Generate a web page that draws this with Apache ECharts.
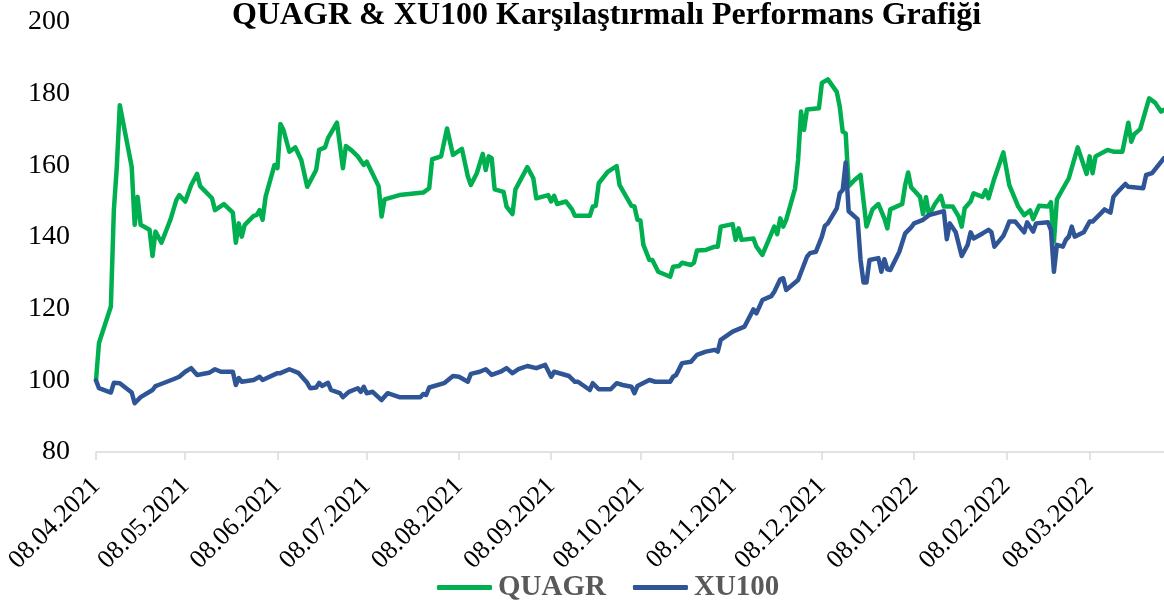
<!DOCTYPE html>
<html>
<head>
<meta charset="utf-8">
<script src="https://cdn.jsdelivr.net/npm/echarts@6/dist/echarts.min.js"></script>
<style>
html,body{margin:0;padding:0;background:#fff;}
#chart{width:1164px;height:604px;}
</style>
</head>
<body>
<div id="chart"></div>
<script>
const chartTitle = 'QUAGR & XU100 Karşılaştırmalı Performans Grafiği';
const seriesNames = ['QUAGR', 'XU100'];
const tickDates = ['2021-04-08','2021-05-08','2021-06-08','2021-07-08','2021-08-08','2021-09-08',
  '2021-10-08','2021-11-08','2021-12-08','2022-01-08','2022-02-08','2022-03-08'];
const yTicks = [80, 100, 120, 140, 160, 180, 200];
const axisStart = '2021-04-08';
const axisEnd = '2022-04-02';

const quagr = [
['2021-04-08',100],['2021-04-09',110.4],['2021-04-13',120.6],['2021-04-14',147.5],['2021-04-15',159.6],
['2021-04-16',176.8],['2021-04-20',159.6],['2021-04-21',143.4],['2021-04-22',151.2],['2021-04-23',143.4],
['2021-04-26',142],['2021-04-27',134.7],['2021-04-28',141.5],['2021-04-30',138.4],['2021-05-03',144.8],
['2021-05-05',150.3],['2021-05-06',151.7],['2021-05-08',149.9],['2021-05-10',154.5],['2021-05-12',157.6],
['2021-05-13',154.2],['2021-05-17',150.8],['2021-05-18',147.5],['2021-05-21',149.2],['2021-05-24',146.8],
['2021-05-25',138.4],['2021-05-26',143.8],['2021-05-27',140.1],['2021-05-28',143.4],['2021-05-31',145.9],
['2021-06-01',146.1],['2021-06-02',147.5],['2021-06-03',144.8],['2021-06-04',151.2],['2021-06-07',160.1],
['2021-06-08',159.2],['2021-06-09',171.5],['2021-06-10',169.9],['2021-06-12',163.8],['2021-06-14',165],
['2021-06-16',161.5],['2021-06-18',154],['2021-06-21',158.7],['2021-06-22',164.3],['2021-06-24',165],
['2021-06-25',167.6],['2021-06-28',171.9],['2021-06-30',159.2],['2021-07-01',165.4],['2021-07-03',164.1],
['2021-07-05',162.5],['2021-07-07',160.1],['2021-07-08',161],['2021-07-12',154.2],['2021-07-13',145.7],
['2021-07-14',150.5],['2021-07-19',151.7],['2021-07-27',152.4],['2021-07-29',153.6],['2021-07-30',161.7],
['2021-08-02',162.5],['2021-08-04',170.3],['2021-08-06',162.9],['2021-08-09',164.6],['2021-08-11',156.9],
['2021-08-12',154.5],['2021-08-14',157.8],['2021-08-16',163.2],['2021-08-17',158.7],['2021-08-18',162.5],
['2021-08-19',162],['2021-08-20',153.3],['2021-08-23',152.6],['2021-08-24',148.5],['2021-08-26',146.4],
['2021-08-27',153.3],['2021-08-31',159.5],['2021-09-02',156.4],['2021-09-03',150.8],['2021-09-07',151.7],
['2021-09-08',149.9],['2021-09-09',151.5],['2021-09-10',149.2],['2021-09-13',149.9],['2021-09-15',147.7],
['2021-09-16',145.9],['2021-09-21',145.9],['2021-09-22',148.5],['2021-09-23',148.7],['2021-09-24',155],
['2021-09-27',158.2],['2021-09-30',159.8],['2021-10-01',154.5],['2021-10-05',148.7],['2021-10-06',148.5],
['2021-10-07',144.8],['2021-10-08',144.6],['2021-10-09',137.8],['2021-10-11',133.6],['2021-10-12',133.6],
['2021-10-14',130.3],['2021-10-18',128.9],['2021-10-19',131.7],['2021-10-21',131.9],['2021-10-22',132.8],
['2021-10-25',132.2],['2021-10-26',132.8],['2021-10-27',136.2],['2021-10-30',136.4],['2021-11-02',137.3],
['2021-11-03',137.3],['2021-11-04',142.9],['2021-11-08',143.6],['2021-11-09',139.2],['2021-11-10',142.4],
['2021-11-11',139.2],['2021-11-15',139.6],['2021-11-16',137.3],['2021-11-18',135],['2021-11-22',142.9],
['2021-11-23',140.8],['2021-11-24',145.2],['2021-11-25',142.9],['2021-11-26',144.8],['2021-11-29',153.6],
['2021-11-30',161.5],['2021-12-01',175],['2021-12-02',169.9],['2021-12-03',175.6],['2021-12-07',175.9],
['2021-12-08',183],['2021-12-10',184],['2021-12-13',180.5],['2021-12-14',176.4],['2021-12-15',169.4],
['2021-12-16',168.9],['2021-12-17',154.2],['2021-12-19',155.9],['2021-12-21',157.3],['2021-12-23',142.9],
['2021-12-25',147.7],['2021-12-27',149.2],['2021-12-29',145.2],['2021-12-30',142.4],['2021-12-31',147.7],
['2022-01-04',149.2],['2022-01-05',154.5],['2022-01-06',158],['2022-01-07',153.9],['2022-01-10',151.2],
['2022-01-11',146.4],['2022-01-12',151.1],['2022-01-13',146.1],['2022-01-15',149.2],['2022-01-17',151.5],
['2022-01-18',148.5],['2022-01-21',148.5],['2022-01-23',145.7],['2022-01-24',142.9],['2022-01-25',148],
['2022-01-27',149.9],['2022-01-28',152.2],['2022-01-31',151.2],['2022-02-01',153],['2022-02-02',150.8],
['2022-02-04',156.4],['2022-02-07',163.6],['2022-02-09',154.5],['2022-02-12',148.5],['2022-02-14',146.1],
['2022-02-16',147.4],['2022-02-17',145],['2022-02-19',148.7],['2022-02-22',148.5],['2022-02-23',149.7],
['2022-02-24',138.7],['2022-02-25',150.5],['2022-03-01',156.4],['2022-03-04',165],['2022-03-07',157.6],
['2022-03-08',162.5],['2022-03-09',157.8],['2022-03-10',162.5],['2022-03-14',164.3],['2022-03-16',163.8],
['2022-03-19',163.8],['2022-03-21',171.9],['2022-03-22',166.6],['2022-03-23',168.7],['2022-03-25',170.1],
['2022-03-28',178.7],['2022-03-30',177.5],['2022-04-01',175],['2022-04-02',175.5]
];

const xu100 = [
['2021-04-08',100],['2021-04-09',97.8],['2021-04-13',96.6],['2021-04-14',99.3],['2021-04-16',99.2],
['2021-04-20',96.6],['2021-04-21',93.6],['2021-04-23',95.3],['2021-04-27',97.3],['2021-04-28',98.4],
['2021-04-29',98.7],['2021-05-04',100.3],['2021-05-06',101],['2021-05-08',102.4],['2021-05-10',103.4],
['2021-05-12',101.5],['2021-05-16',102.1],['2021-05-18',103.1],['2021-05-20',102.4],['2021-05-24',102.4],
['2021-05-25',98.7],['2021-05-26',100.6],['2021-05-27',99.6],['2021-05-31',100.1],['2021-06-02',101],
['2021-06-03',100.1],['2021-06-08',102],['2021-06-09',102],['2021-06-12',103.1],['2021-06-15',102.1],
['2021-06-18',99.3],['2021-06-19',97.8],['2021-06-21',98],['2021-06-22',99.3],['2021-06-23',98.4],
['2021-06-25',99.3],['2021-06-26',97.3],['2021-06-29',96.4],['2021-06-30',95.3],['2021-07-02',96.8],
['2021-07-05',97.8],['2021-07-06',96.8],['2021-07-07',98.2],['2021-07-08',96.4],['2021-07-10',96.8],
['2021-07-13',94.5],['2021-07-15',96.4],['2021-07-19',95.3],['2021-07-26',95.3],['2021-07-27',96.2],
['2021-07-28',95.9],['2021-07-29',98],['2021-08-03',99.2],['2021-08-06',101.2],['2021-08-08',101],
['2021-08-11',99.6],['2021-08-12',101.8],['2021-08-15',102.4],['2021-08-17',103.1],['2021-08-19',101.5],
['2021-08-22',102.4],['2021-08-24',103.4],['2021-08-26',102],['2021-08-28',103.1],['2021-08-31',104],
['2021-09-03',103.4],['2021-09-06',104.3],['2021-09-08',101],['2021-09-09',102.4],['2021-09-14',101.2],
['2021-09-16',99.6],['2021-09-17',99.6],['2021-09-21',97.3],['2021-09-22',99.2],['2021-09-24',97.5],
['2021-09-28',97.5],['2021-09-30',99.2],['2021-10-02',98.7],['2021-10-05',98.2],['2021-10-06',96.4],
['2021-10-07',98.4],['2021-10-11',100.1],['2021-10-13',99.6],['2021-10-18',99.6],['2021-10-19',101],
['2021-10-20',101.5],['2021-10-22',104.8],['2021-10-25',105.2],['2021-10-27',107.1],['2021-10-30',108],
['2021-11-02',108.5],['2021-11-03',108],['2021-11-04',111.3],['2021-11-08',113.6],['2021-11-10',114.3],
['2021-11-12',115],['2021-11-15',119.8],['2021-11-16',118.7],['2021-11-18',122.4],['2021-11-21',123.5],
['2021-11-22',124.7],['2021-11-24',128.2],['2021-11-25',128.5],['2021-11-26',125.2],['2021-11-30',128],
['2021-12-03',134.5],['2021-12-04',135.5],['2021-12-06',135.9],['2021-12-08',140.1],['2021-12-09',143.1],
['2021-12-10',143.8],['2021-12-13',148],['2021-12-14',152.2],['2021-12-15',153.1],['2021-12-16',160.8],
['2021-12-17',147.2],['2021-12-20',145],['2021-12-21',133.6],['2021-12-22',127.3],['2021-12-23',127.3],
['2021-12-24',133.6],['2021-12-27',134.1],['2021-12-28',130.3],['2021-12-29',133.8],['2021-12-30',131],
['2021-12-31',130.8],['2022-01-03',135.8],['2022-01-05',141],['2022-01-07',142.7],['2022-01-08',143.8],
['2022-01-11',144.8],['2022-01-13',146.1],['2022-01-18',147.2],['2022-01-19',139.4],['2022-01-20',143.8],
['2022-01-22',141.3],['2022-01-24',134.7],['2022-01-26',137.8],['2022-01-27',141.3],['2022-01-28',139.6],
['2022-01-31',141],['2022-02-02',142],['2022-02-03',141.3],['2022-02-04',137.3],['2022-02-07',140.3],
['2022-02-08',142.2],['2022-02-09',144.3],['2022-02-11',144.3],['2022-02-14',141.3],['2022-02-15',144.1],
['2022-02-17',141.5],['2022-02-18',143.8],['2022-02-22',144.1],['2022-02-23',142],['2022-02-24',130.3],
['2022-02-25',137.8],['2022-02-27',137.3],['2022-02-28',139.2],['2022-03-01',140.1],['2022-03-02',142.9],
['2022-03-03',140.1],['2022-03-06',141.3],['2022-03-08',144.3],['2022-03-09',144.3],['2022-03-12',146.8],
['2022-03-13',147.7],['2022-03-15',146.8],['2022-03-16',151.2],['2022-03-18',153.1],['2022-03-20',154.8],
['2022-03-21',154],['2022-03-26',153.6],['2022-03-27',157.3],['2022-03-29',157.8],['2022-04-02',162]
];

const colors = ['#00b050', '#2f5597'];
const serif = '"Liberation Serif", "Times New Roman", serif';
function toTime(s) {
  const p = s.split('-').map(Number);
  return Date.UTC(p[0], p[1] - 1, p[2]);
}
function fmtDate(v) {
  const d = new Date(v);
  const pad = n => (n < 10 ? '0' : '') + n;
  return pad(d.getUTCDate()) + '.' + pad(d.getUTCMonth() + 1) + '.' + d.getUTCFullYear();
}
const tickTimes = tickDates.map(toTime);

const chart = echarts.init(document.getElementById('chart'), null, {renderer: 'canvas'});
chart.setOption({
  animation: false,
  backgroundColor: '#ffffff',
  color: colors,
  title: {
    text: chartTitle,
    left: 232,
    top: 0,
    padding: 0,
    textStyle: {fontFamily: serif, fontWeight: 'bold', fontSize: 32, color: '#000000'}
  },
  legend: {
    data: seriesNames,
    left: 437,
    top: 573,
    padding: 0,
    itemWidth: 55,
    itemHeight: 5,
    itemGap: 27,
    icon: 'roundRect',
    textStyle: {fontFamily: serif, fontWeight: 'bold', fontSize: 29, color: '#595959', padding: [0, 0, 0, 1]}
  },
  grid: {left: 96, right: 0, top: 22, bottom: 152, containLabel: false},
  xAxis: {
    type: 'value',
    min: toTime(axisStart),
    max: toTime(axisEnd),
    axisLine: {show: true, lineStyle: {color: '#d9d9d9', width: 1.5}},
    axisTick: {show: true, length: 8, lineStyle: {color: '#d9d9d9', width: 1.5}, customValues: tickTimes},
    splitLine: {show: false},
    axisLabel: {
      customValues: tickTimes,
      rotate: 45,
      margin: 30,
      fontFamily: serif,
      fontSize: 26,
      color: '#000000',
      formatter: v => fmtDate(v)
    }
  },
  yAxis: {
    type: 'value',
    min: yTicks[0],
    max: yTicks[yTicks.length - 1],
    interval: yTicks[1] - yTicks[0],
    axisLine: {show: false},
    axisTick: {show: false},
    splitLine: {show: false},
    axisLabel: {margin: 26, fontFamily: serif, fontSize: 28, color: '#000000'}
  },
  series: [
    {
      name: seriesNames[0], type: 'line', data: quagr.map(p => [toTime(p[0]), p[1]]),
      symbol: 'none', lineStyle: {width: 4.5, color: colors[0], join: 'round', cap: 'round'}
    },
    {
      name: seriesNames[1], type: 'line', data: xu100.map(p => [toTime(p[0]), p[1]]),
      symbol: 'none', lineStyle: {width: 4.5, color: colors[1], join: 'round', cap: 'round'}
    }
  ]
});
</script>
</body>
</html>
